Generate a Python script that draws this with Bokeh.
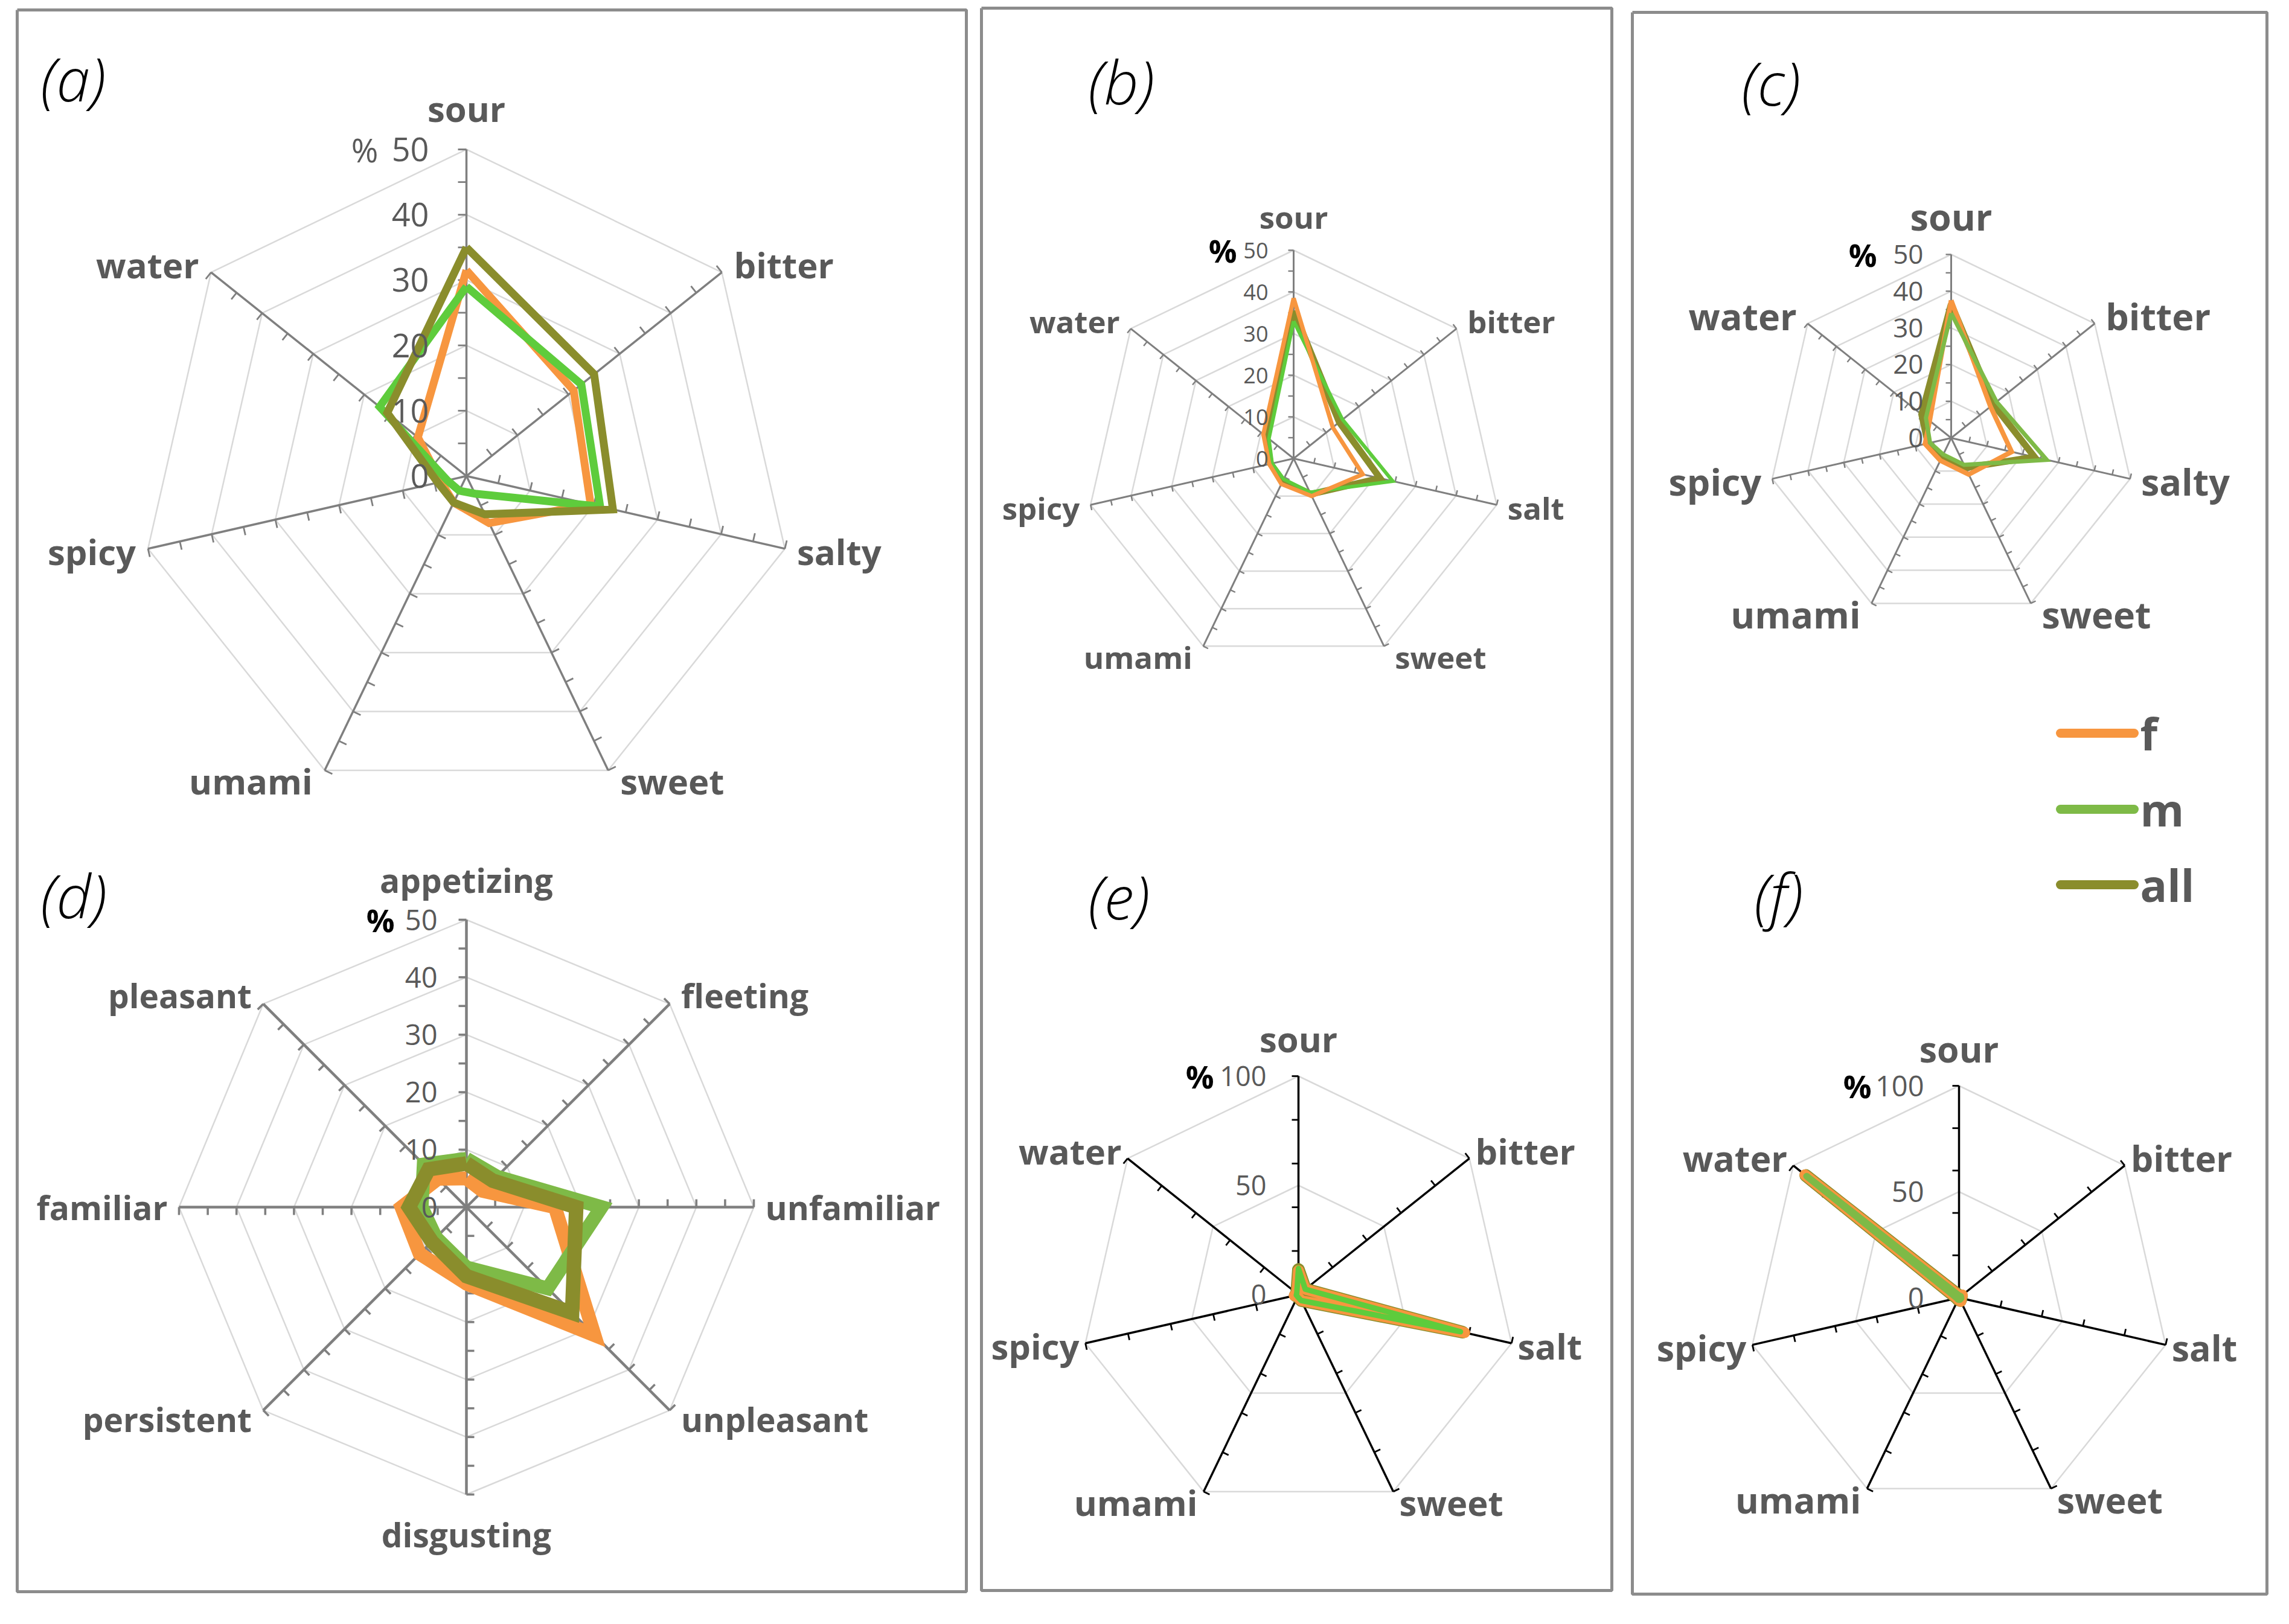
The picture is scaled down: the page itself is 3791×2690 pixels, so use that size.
import math
from bokeh.plotting import figure
from bokeh.models import Range1d
from bokeh.core.properties import value
from bokeh.embed import file_html
from bokeh.resources import INLINE

# ---------------- data ----------------
series_names = ["f", "m", "all"]

cats_a = ["sour", "bitter", "salty", "sweet", "umami", "spicy", "water"]
a_f = [31.5, 21.0, 19.5, 8.0, 4.5, 4.0, 9.5]
a_m = [29.0, 22.5, 21.0, 3.0, 2.5, 3.0, 17.0]
a_all = [35.0, 25.0, 23.0, 6.5, 4.5, 4.5, 15.5]

cats_b = ["sour", "bitter", "salt", "sweet", "umami", "spicy", "water"]
b_f = [38.5, 12.0, 17.0, 10.0, 6.8, 6.0, 9.3]
b_m = [33.0, 15.0, 24.4, 9.0, 5.5, 5.3, 7.6]
b_all = [35.5, 14.0, 21.3, 9.5, 6.0, 5.7, 8.5]

cats_c = ["sour", "bitter", "salty", "sweet", "umami", "spicy", "water"]
c_f = [37.5, 13.7, 16.9, 11.0, 6.8, 7.3, 7.5]
c_m = [34.0, 15.8, 26.7, 8.1, 5.0, 5.9, 8.8]
c_all = [36.5, 14.7, 23.3, 9.0, 6.0, 6.5, 10.3]

cats_d = ["appetizing", "fleeting", "unfamiliar", "unpleasant",
          "disgusting", "persistent", "familiar", "pleasant"]
d_f = [5.0, 4.0, 15.4, 31.5, 13.3, 11.5, 11.3, 7.0]
d_m = [8.4, 7.5, 23.5, 20.0, 10.5, 7.5, 7.8, 10.5]
d_all = [7.6, 6.5, 19.1, 26.0, 12.0, 8.5, 10.0, 9.3]

cats_e = ["sour", "bitter", "salt", "sweet", "umami", "spicy", "water"]
e_f = [11.0, 4.0, 78.0, 3.0, 1.0, 2.0, 1.0]
e_m = [12.0, 4.0, 76.0, 3.0, 1.0, 1.0, 1.0]
e_all = [11.5, 4.0, 77.0, 3.0, 1.0, 1.5, 1.0]

cats_f = ["sour", "bitter", "salt", "sweet", "umami", "spicy", "water"]
f_f = [1.0, 2.0, 1.0, 2.0, 1.0, 1.0, 93.0]
f_m = [1.0, 1.0, 1.0, 1.0, 1.0, 1.0, 92.0]
f_all = [1.0, 1.5, 1.0, 1.5, 1.0, 1.0, 92.5]

ticks_50 = [0, 10, 20, 30, 40, 50]
ticks_100 = [0, 50, 100]
panel_letters = ["(a)", "(b)", "(c)", "(d)", "(e)", "(f)"]

# ---------------- styling ----------------
ORANGE = "#F7963F"
GREEN_BRIGHT = "#5ECC3C"
GREEN_MUTED = "#7EBA47"
OLIVE = "#8A8D2C"
TXT = "#595959"
RING = "#d9d9d9"
FONT = value("Open Sans")

W, H = 3775, 2674
OFF = 8
p = figure(width=W, height=H, output_backend="svg", toolbar_location=None,
           x_range=Range1d(OFF, OFF + W), y_range=Range1d(OFF + H, OFF),
           min_border=0)
p.axis.visible = False
p.grid.visible = False
p.outline_line_color = None
p.background_fill_color = "white"


def txt(x, y, s, size, color=TXT, style="bold", align="left", base="middle"):
    p.text(x=[x], y=[y], text=[s], text_font=FONT, text_font_size=value(f"{size}px"),
           text_font_style=style, text_color=color, text_align=align,
           text_baseline=base)


def draw_panel(cfg, cats, vals):
    n = len(cats)
    cx, cy, R, vmax = cfg["cx"], cfg["cy"], cfg["R"], cfg["vmax"]
    dirs = [(math.sin(2 * math.pi * k / n), -math.cos(2 * math.pi * k / n)) for k in range(n)]
    # rings
    rx, ry = [], []
    for t in cfg["ticks"][1:]:
        rr = R * t / vmax
        rx.append([cx + rr * d[0] for d in dirs] + [cx + rr * dirs[0][0]])
        ry.append([cy + rr * d[1] for d in dirs] + [cy + rr * dirs[0][1]])
    p.multi_line(rx, ry, line_color=RING, line_width=2.5)
    # spokes
    p.multi_line([[cx, cx + R * d[0]] for d in dirs], [[cy, cy + R * d[1]] for d in dirs],
                 line_color=cfg["spoke"], line_width=cfg["spoke_w"])
    # minor ticks
    tx, ty = [], []
    t = cfg["minor"]
    L = cfg["tick_len"]
    while t <= vmax + 1e-9:
        rr = R * t / vmax
        for d in dirs:
            bx, by = cx + rr * d[0], cy + rr * d[1]
            nx, ny = d[1], -d[0]
            tx.append([bx, bx + L * nx])
            ty.append([by, by + L * ny])
        t += cfg["minor"]
    p.multi_line(tx, ty, line_color=cfg["spoke"], line_width=cfg["spoke_w"] * 0.8)
    # series
    for name in cfg["order"]:
        v = vals[name]
        xs = [cx + R * v[k] / vmax * dirs[k][0] for k in range(n)]
        ys = [cy + R * v[k] / vmax * dirs[k][1] for k in range(n)]
        xs.append(xs[0])
        ys.append(ys[0])
        p.line(xs, ys, line_color=cfg["colors"][name], line_width=cfg["widths"][name],
               line_join=cfg["join"], line_cap=cfg["cap"])
    # tick labels
    for t in cfg["ticks"]:
        txt(cx - cfg["num_gap"], cy - R * t / vmax, str(t), cfg["num_size"],
            style="normal", align="right")
    # percent sign
    top = cy - R
    if cfg["pct_bold"]:
        txt(cx - cfg["pct_gap"], top, "%", 52, color="black", style="bold", align="right")
    else:
        txt(cx - cfg["pct_gap"], top, "%", cfg["num_size"], style="normal", align="right")
    # category labels
    fs = cfg["cat_size"]
    for k, c in enumerate(cats):
        dx, dy = dirs[k]
        ex, ey = cx + R * dx, cy + R * dy
        if abs(dx) < 0.05:
            yy = ey - cfg["vpad"] if dy < 0 else ey + cfg["vpad"]
            txt(ex, yy, c, fs, align="center")
        else:
            align = "left" if dx > 0 else "right"
            sgn = 1 if dx > 0 else -1
            txt(ex + sgn * cfg["hpad"], ey + 20 * dy, c, fs, align=align)
    # panel letter
    txt(cfg["lx"], cfg["ly"], cfg["letter"], 100, color="black", style="italic")


base_cols_bright = {"f": ORANGE, "m": GREEN_BRIGHT, "all": OLIVE}
base_cols_muted = {"f": ORANGE, "m": GREEN_MUTED, "all": OLIVE}

panels = [
    (dict(cx=780, cy=796, R=541, vmax=50, ticks=ticks_50, minor=5, spoke="#7f7f7f", spoke_w=3.5,
          tick_len=14, cat_size=58, num_size=54, num_gap=62, pct_gap=146, pct_bold=False,
          order=["f", "m", "all"], widths={"f": 13, "m": 13, "all": 13}, join="miter", cap="butt",
          colors=base_cols_bright, vpad=68, hpad=20, lx=75, ly=136, letter=panel_letters[0]),
     cats_a, {"f": a_f, "m": a_m, "all": a_all}),
    (dict(cx=2150, cy=767, R=345, vmax=50, ticks=ticks_50, minor=5, spoke="#7f7f7f", spoke_w=3,
          tick_len=9, cat_size=51, num_size=36, num_gap=42, pct_gap=94, pct_bold=True,
          order=["all", "m", "f"], widths={"f": 7, "m": 6, "all": 11}, join="miter", cap="butt",
          colors=base_cols_bright, vpad=56, hpad=18, lx=1810, ly=141, letter=panel_letters[1]),
     cats_b, {"f": b_f, "m": b_m, "all": b_all}),
    (dict(cx=3239, cy=733, R=304, vmax=50, ticks=ticks_50, minor=5, spoke="#7f7f7f", spoke_w=3,
          tick_len=9, cat_size=61, num_size=44, num_gap=46, pct_gap=123, pct_bold=True,
          order=["all", "f", "m"], widths={"f": 8, "m": 7, "all": 11}, join="miter", cap="butt",
          colors=base_cols_muted, vpad=63, hpad=18, lx=2892, ly=143, letter=panel_letters[2]),
     cats_c, {"f": c_f, "m": c_m, "all": c_all}),
    (dict(cx=780, cy=2007, R=476, vmax=50, ticks=ticks_50, minor=5, spoke="#7f7f7f", spoke_w=4.5,
          tick_len=13, cat_size=55, num_size=47, num_gap=48, pct_gap=119, pct_bold=True,
          order=["f", "m", "all"], widths={"f": 23, "m": 23, "all": 24}, join="miter", cap="butt",
          colors=base_cols_muted, vpad=66, hpad=19, lx=75, ly=1489, letter=panel_letters[3]),
     cats_d, {"f": d_f, "m": d_m, "all": d_all}),
    (dict(cx=2158, cy=2152, R=362, vmax=100, ticks=ticks_100, minor=20, spoke="black", spoke_w=3.5,
          tick_len=11, cat_size=58, num_size=45, num_gap=53, pct_gap=140, pct_bold=True,
          order=["all", "f", "m"], widths={"f": 18, "m": 9, "all": 21}, join="round", cap="round",
          colors=base_cols_bright, vpad=62, hpad=10, lx=1810, ly=1491, letter=panel_letters[4]),
     cats_e, {"f": e_f, "m": e_m, "all": e_all}),
    (dict(cx=3252, cy=2157, R=351, vmax=100, ticks=ticks_100, minor=20, spoke="black", spoke_w=3.5,
          tick_len=11, cat_size=59, num_size=47, num_gap=58, pct_gap=145, pct_bold=True,
          order=["all", "f", "m"], widths={"f": 18, "m": 11, "all": 21}, join="round", cap="round",
          colors=base_cols_muted, vpad=62, hpad=10, lx=2913, ly=1488, letter=panel_letters[5]),
     cats_f, {"f": f_f, "m": f_m, "all": f_all}),
]

# frames around the three columns
frames = [(36, 24, 1608, 2644), (1633, 21, 2677, 2642), (2711, 28, 3762, 2648)]
for x0, y0, x1, y1 in frames:
    p.line([x0, x1, x1, x0, x0], [y0, y0, y1, y1, y0], line_color="#8c8c8c", line_width=5)

for cfg, cats, vals in panels:
    draw_panel(cfg, cats, vals)

# legend
leg_y = [1222, 1348, 1473]
for name, yy in zip(series_names, leg_y):
    p.line([3420, 3542], [yy, yy], line_color=base_cols_muted[name], line_width=15, line_cap="round")
    txt(3552, yy, name, 74)

open("out.html", "w").write(file_html(p, INLINE))
